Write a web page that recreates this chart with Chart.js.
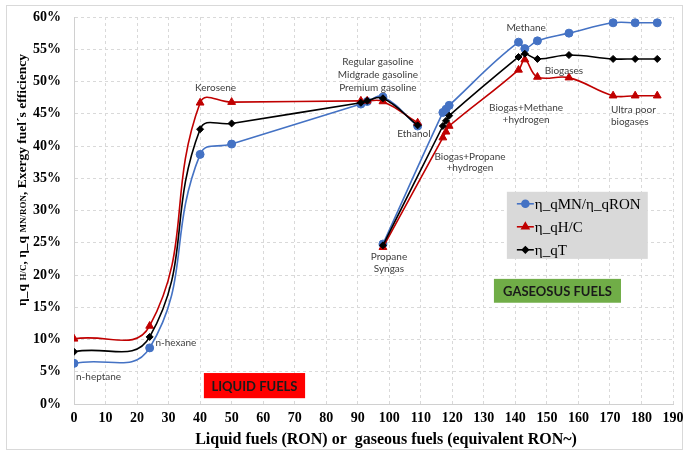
<!DOCTYPE html>
<html>
<head>
<meta charset="utf-8">
<script src="https://cdn.jsdelivr.net/npm/chart.js@4.4.0/dist/chart.umd.min.js"></script>
<style>
  body { margin: 0; background: #fff; }
  #wrap { width: 684px; height: 450px; }
</style>
</head>
<body>
<div id="wrap"><canvas id="chart" width="684" height="450"></canvas></div>
<script>
// series names (legend)
const seriesNames = ['η_qMN/η_qRON', 'η_qH/C', 'η_qT'];

// liquid fuels, x = RON
const liquidRon = [0, 24, 40, 50, 91, 93, 98, 109];
const liquidMnRon = [6.3, 8.7, 38.7, 40.3, 46.5, 46.9, 47.6, 43.1];
const liquidHC = [10.1, 12.1, 46.7, 46.8, 47.0, 47.0, 46.9, 43.6];
const liquidT = [8.1, 10.4, 42.6, 43.5, 46.7, 47.0, 47.4, 43.2];

// gaseous fuels, x = equivalent RON
const gasRon = [98, 117, 118, 119, 141, 143, 147, 157, 171, 178, 185];
const gasMnRon = [24.8, 45.2, 45.7, 46.3, 56.1, 55.1, 56.3, 57.5, 59.1, 59.1, 59.1];
const gasHC = [24.3, 41.3, 42.2, 43.1, 51.8, 53.4, 50.7, 50.6, 47.8, 47.8, 47.8];
const gasT = [24.6, 43.1, 43.9, 44.7, 53.8, 54.3, 53.5, 54.1, 53.5, 53.5, 53.5];

// axis ticks
const xTicks = [0, 10, 20, 30, 40, 50, 60, 70, 80, 90, 100, 110, 120, 130, 140, 150, 160, 170, 180, 190];
const yTicks = [0, 5, 10, 15, 20, 25, 30, 35, 40, 45, 50, 55, 60];

// point labels: [text, x, y, align]
const pointLabels = [
  ['n-heptane', 7.8, 4.2, 'center'],
  ['n-hexane', 32.3, 9.5, 'center'],
  ['Kerosene', 44.9, 49.0, 'center'],
  ['Regular gasoline', 96.4, 53.0, 'center'],
  ['Midgrade gasoline', 96.4, 51.1, 'center'],
  ['Premium gasoline', 96.4, 49.1, 'center'],
  ['Ethanol', 107.8, 41.9, 'center'],
  ['Propane', 99.9, 22.9, 'center'],
  ['Syngas', 99.9, 21.0, 'center'],
  ['Biogas+Propane', 125.6, 38.4, 'center'],
  ['+hydrogen', 125.6, 36.6, 'center'],
  ['Methane', 143.4, 58.3, 'center'],
  ['Biogas+Methane', 143.4, 45.9, 'center'],
  ['+hydrogen', 143.4, 44.0, 'center'],
  ['Biogases', 155.4, 51.6, 'center'],
  ['Ultra poor', 170.3, 45.6, 'left'],
  ['biogases', 170.3, 43.7, 'left'],
];

const colors = ['#4472c4', '#c00000', '#000000'];
const shapes = ['circle', 'triangle', 'rectRot'];
const radii = [4, 4.5, 3.5];

function toPoints(xs, ys) {
  return xs.map((x, i) => ({ x: x, y: ys[i] }));
}

function makeSet(i, xs, ys, tension) {
  return {
    label: seriesNames[i],
    data: toPoints(xs, ys),
    borderColor: colors[i],
    backgroundColor: colors[i],
    borderWidth: 1.6,
    pointStyle: shapes[i],
    pointRadius: radii[i],
    pointHoverRadius: radii[i],
    pointBorderWidth: 1,
    tension: tension,
    order: 3 - i,
  };
}

const liquidSets = [liquidMnRon, liquidHC, liquidT].map((ys, i) => makeSet(i, liquidRon, ys, 0.45));
const gasSets = [gasMnRon, gasHC, gasT].map((ys, i) => makeSet(i, gasRon, ys, 0.4));

const serif = "'Liberation Serif', 'Times New Roman', serif";
const sans = "Lato, 'Open Sans', sans-serif";

const extras = {
  id: 'extras',
  beforeDraw(chart) {
    const ctx = chart.ctx;
    ctx.save();
    ctx.fillStyle = '#fff';
    ctx.fillRect(0, 0, chart.width, chart.height);
    ctx.strokeStyle = '#d9d9d9';
    ctx.lineWidth = 1;
    ctx.strokeRect(6.5, 5.5, 676, 444);
    ctx.restore();
  },
  afterDatasetsDraw(chart) {
    const ctx = chart.ctx;
    const xs = chart.scales.x;
    const ys = chart.scales.y;
    const px = v => xs.getPixelForValue(v);
    const py = v => ys.getPixelForValue(v);
    ctx.save();

    // point labels
    ctx.font = '10px ' + sans;
    ctx.fillStyle = '#404040';
    ctx.textBaseline = 'middle';
    pointLabels.forEach(([t, x, y, a]) => {
      ctx.textAlign = a;
      ctx.fillText(t, px(x), py(y));
    });

    // fuel family boxes
    const box = (x0, x1, y0, y1, fill, text) => {
      const l = px(x0), r = px(x1), t = py(y0), b = py(y1);
      ctx.fillStyle = fill;
      ctx.fillRect(l, t, r - l, b - t);
      ctx.fillStyle = '#1a1a1a';
      ctx.font = 'bold 13px ' + sans;
      ctx.textAlign = 'center';
      ctx.fillText(text, (l + r) / 2, (t + b) / 2 + 1);
    };
    box(41.2, 73.3, 4.8, 0.9, '#ff0000', 'LIQUID FUELS');
    box(133.2, 173.5, 19.4, 15.7, '#70ad47', 'GASEOSUS FUELS');

    // legend
    const ll = px(137.3), lr = px(182.0), lt = py(32.9), lb = py(22.5);
    ctx.fillStyle = '#d9d9d9';
    ctx.fillRect(ll, lt, lr - ll, lb - lt);
    ctx.font = '15px ' + serif;
    ctx.textAlign = 'left';
    seriesNames.forEach((name, i) => {
      const y = lt + 12 + i * 23;
      ctx.strokeStyle = colors[i];
      ctx.lineWidth = 1.6;
      ctx.beginPath();
      ctx.moveTo(ll + 10, y);
      ctx.lineTo(ll + 27, y);
      ctx.stroke();
      Chart.helpers.drawPoint(ctx, {
        pointStyle: shapes[i], radius: radii[i] - 0.5, borderWidth: 1,
      }, ll + 18.5, y);
      ctx.fillStyle = colors[i];
      ctx.fill();
      ctx.fillStyle = '#000';
      ctx.fillText(name, ll + 28, y + 1);
    });

    // x axis title
    ctx.font = 'bold 16px ' + serif;
    ctx.textAlign = 'center';
    ctx.fillText('Liquid fuels (RON) or  gaseous fuels (equivalent RON~)', 386, 440);

    // y axis title with small subscripts
    const parts = [
      ['η_q ', 'bold 13.5px '],
      ['H/C', 'bold 9px '],
      [', η_q ', 'bold 13.5px '],
      ['MN/RON', 'bold 9px '],
      [', Exergy fuel´s efficiency', 'bold 13.5px '],
    ];
    let total = 0;
    parts.forEach(([t, f]) => { ctx.font = f + serif; total += ctx.measureText(t).width; });
    ctx.translate(21, 180);
    ctx.rotate(-Math.PI / 2);
    ctx.fillStyle = '#000';
    ctx.textAlign = 'left';
    ctx.textBaseline = 'alphabetic';
    let pos = -total / 2;
    parts.forEach(([t, f]) => {
      ctx.font = f + serif;
      ctx.fillText(t, pos, 5);
      pos += ctx.measureText(t).width;
    });
    ctx.restore();
  },
};

new Chart(document.getElementById('chart'), {
  type: 'line',
  data: { datasets: [...liquidSets, ...gasSets] },
  plugins: [extras],
  options: {
    responsive: false,
    animation: false,
    layout: { padding: { left: 0, top: 17, right: 11, bottom: 0 } },
    plugins: {
      legend: { display: false },
      tooltip: { enabled: false },
    },
    scales: {
      x: {
        type: 'linear',
        min: 0,
        max: 190,
        afterBuildTicks: s => { s.ticks = xTicks.map(v => ({ value: v })); },
        afterFit: s => { s.height = 46; s.paddingLeft = 0; s.paddingRight = 0; },
        ticks: {
          padding: 6,
          color: '#000',
          font: { family: serif, size: 14, weight: 'bold' },
          maxRotation: 0,
        },
        grid: { color: '#d9d9d9', drawTicks: false },
        border: { color: '#d0d0d0', dash: [3, 3] },
      },
      y: {
        min: 0,
        max: 60,
        afterBuildTicks: s => { s.ticks = yTicks.map(v => ({ value: v })); },
        afterFit: s => { s.width = 74; s.paddingTop = 0; s.paddingBottom = 0; },
        ticks: {
          padding: 13,
          color: '#000',
          font: { family: serif, size: 14, weight: 'bold' },
          callback: v => v + '%',
        },
        grid: { color: '#d9d9d9', drawTicks: false },
        border: { color: '#d0d0d0', dash: [3, 3] },
      },
    },
  },
});
</script>
</body>
</html>
